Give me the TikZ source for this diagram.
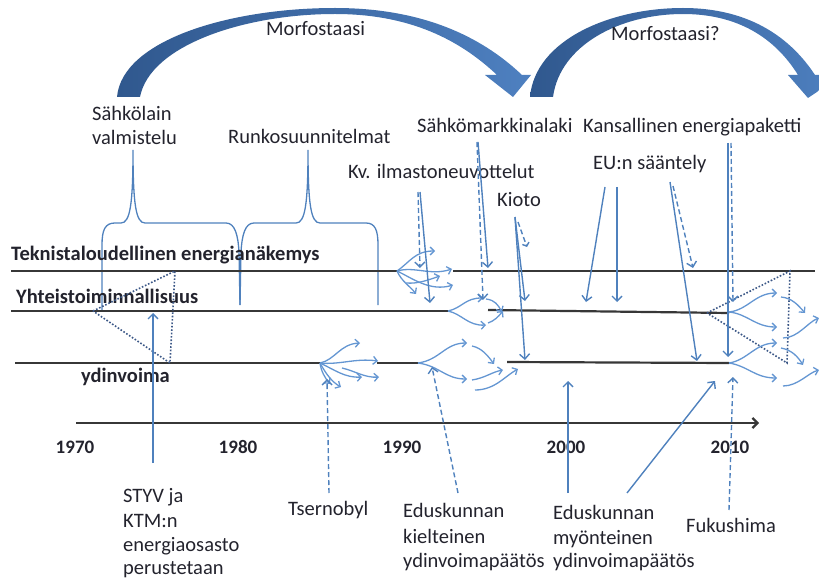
\documentclass[tikz,border=0pt]{standalone}
\usepackage{fontspec}
\setmainfont{Carlito}
\usetikzlibrary{arrows.meta}
\definecolor{lineblue}{RGB}{79,129,189}
\definecolor{branchblue}{RGB}{100,150,210}
\definecolor{arrowdark}{RGB}{48,88,142}
\definecolor{arrowlight}{RGB}{78,128,192}
\definecolor{ink}{RGB}{35,35,45}
\definecolor{rulegray}{RGB}{55,55,55}
\definecolor{dotblue}{RGB}{60,88,135}
\begin{document}
\begin{tikzpicture}[x=1pt,y=-1pt,
  lbl/.style={anchor=base west, inner sep=0pt, font=\fontsize{20.5}{24}\selectfont, text=ink},
  blbl/.style={anchor=base west, inner sep=0pt, font=\fontsize{20.5}{24}\selectfont\bfseries, text=ink},
  yearlbl/.style={anchor=base, inner sep=0pt, font=\fontsize{19}{24}\selectfont\bfseries, text=ink},
  rulel/.style={draw=rulegray, line width=2.2pt},
  conn/.style={draw=lineblue, line width=1.4pt, -{Straight Barb[length=5pt,width=10pt]}},
  dconn/.style={conn, dash pattern=on 5pt off 3pt},
  branch/.style={draw=branchblue, line width=1.3pt, -{Straight Barb[length=4pt,width=8pt]}},
  bracel/.style={draw=lineblue, line width=1.3pt},
  dotline/.style={draw=dotblue, line width=1.6pt, dash pattern=on 1.6pt off 1.8pt},
  bigarrow/.style={left color=arrowdark, right color=arrowlight, draw=none}
]
\useasboundingbox (0,0) rectangle (819,580);
\clip (0,0) rectangle (819,580);

% big curved arrows
\path[bigarrow] (117,97) .. controls (122,40) and (230,8) .. (335,8)
  .. controls (420,8) and (480,35) .. (522,75) -- (531,75) -- (513,97) -- (485,75) -- (497,75)
  .. controls (460,40) and (410,14) .. (335,14)
  .. controls (245,14) and (150,45) .. (140,97) -- cycle;
\path[bigarrow] (530,97) .. controls (535,40) and (610,8) .. (683,8)
  .. controls (752,8) and (792,40) .. (815,75) -- (842,75) -- (808,98) -- (788,75) -- (798,75)
  .. controls (775,38) and (738,14) .. (683,14)
  .. controls (620,14) and (560,45) .. (553,97) -- cycle;

% titles
\node[lbl] (morf1) at (266,36) {Morfostaasi};
\node[lbl] (morf2) at (611,41) {Morfostaasi?};

% top labels
\node[lbl] (sahko1) at (92,121) {Sähkölain};
\node[lbl] (sahko2) at (92,145) {valmistelu};
\node[lbl] (runko) at (228,144) {Runkosuunnitelmat};
\node[lbl] (kv) at (348,179) {Kv. ilmastoneuvottelut};
\node[lbl] (smk) at (417,133) {Sähkömarkkinalaki};
\node[lbl] (kioto) at (497,207) {Kioto};
\node[lbl] (kans) at (583,133) {Kansallinen energiapaketti};
\node[lbl] (eu) at (593,170) {EU:n sääntely};

% braces
\draw[bracel] (102,310) -- (102,245) .. controls (102,230) and (105,223) .. (115,223) -- (121,223)
  .. controls (130,223) and (133,205) .. (133,150)
  .. controls (133,205) and (136,223) .. (145,223) -- (226,223)
  .. controls (235,223) and (238,235) .. (239,252) -- (240,305);
\draw[bracel] (240,305) -- (241,252) .. controls (242,235) and (245,223) .. (254,223) -- (296,223)
  .. controls (305,223) and (308,205) .. (308,150)
  .. controls (308,205) and (311,223) .. (320,223) -- (366,223)
  .. controls (375,223) and (378,230) .. (378,245) -- (378,305);

% level labels
\node[blbl] (tekn) at (11,260) {Teknistaloudellinen energianäkemys};
\node[blbl] (yht) at (16,303) {Yhteistoiminnallisuus};
\node[blbl] (ydin) at (81,382) {ydinvoima};

% level lines
\coordinate (l1a) at (11,271);  \coordinate (l1b) at (397,271);
\coordinate (l1c) at (453,271); \coordinate (l1d) at (815,271);
\coordinate (l2a) at (11,311);  \coordinate (l2b) at (448,311);
\coordinate (l2c) at (488,310); \coordinate (l2d) at (729,313);
\coordinate (l3a) at (15,363);  \coordinate (l3b) at (320,363);
\coordinate (l3c) at (377,363); \coordinate (l3d) at (418,363);
\coordinate (l3e) at (507,362); \coordinate (l3f) at (729,363);
\draw[rulel] (l1a) -- (l1b);
\draw[rulel] (l1c) -- (l1d);
\draw[rulel] (l2a) -- (l2b);
\draw[rulel] (l2c) -- (l2d);
\draw[rulel] (l3a) -- (l3b);
\draw[rulel] (l3c) -- (l3d);
\draw[rulel] (l3e) -- (l3f);

% timeline
\coordinate (t0) at (76,423); \coordinate (t1) at (759,423);
\draw[rulel, -{Straight Barb[length=5pt,width=10pt]}] (t0) -- (t1);
\node[yearlbl] (y1970) at (75,453) {1970};
\node[yearlbl] (y1980) at (238,453) {1980};
\node[yearlbl] (y1990) at (402,453) {1990};
\node[yearlbl] (y2000) at (566,453) {2000};
\node[yearlbl] (y2010) at (730,453) {2010};

% dotted triangles
\coordinate (ta1) at (93,311); \coordinate (ta2) at (175,271); \coordinate (ta3) at (170,363);
\draw[dotline] (ta1) -- (ta2) -- (ta3) -- cycle;
\coordinate (tb1) at (707,313); \coordinate (tb2) at (790,271); \coordinate (tb3) at (787,363);
\draw[dotline] (tb1) -- (tb2) -- (tb3) -- cycle;

% branch clusters
\coordinate (cA) at (397,271);
\draw[branch] (cA) .. controls (410,262) and (415,251) .. (435,251);
\draw[branch] (cA) .. controls (415,266) and (430,276) .. (452,269);
\draw[branch] (cA) .. controls (412,278) and (430,292) .. (453,285);
\draw[branch] (cA) .. controls (402,282) and (410,286) .. (416,294);
\draw[branch] (406,283) .. controls (418,284) and (428,280) .. (440,276);
\coordinate (cB) at (448,311);
\draw[branch] (cB) .. controls (462,308) and (465,298) .. (483,298);
\draw[branch] (486,299) .. controls (495,300) and (498,305) .. (502,312);
\draw[branch] (cB) .. controls (462,314) and (468,326) .. (486,325);
\draw[branch] (488,323) .. controls (494,321) and (498,317) .. (503,311);
\coordinate (cC) at (320,363);
\draw[branch] (cC) .. controls (335,360) and (340,344) .. (360,343);
\draw[branch] (cC) .. controls (340,365) and (355,358) .. (378,361);
\draw[branch] (cC) .. controls (335,370) and (345,378) .. (362,377);
\draw[branch] (342,368) .. controls (355,371) and (365,378) .. (379,377);
\draw[branch] (cC) .. controls (326,374) and (332,382) .. (341,387);
\draw[branch] (cC) .. controls (321,371) and (325,378) .. (330,384);
\coordinate (cD) at (418,363);
\draw[branch] (cD) .. controls (440,360) and (445,343) .. (467,343);
\draw[branch] (472,346) .. controls (482,348) and (488,356) .. (494,364);
\draw[branch] (cD) .. controls (440,366) and (445,379) .. (467,379);
\draw[branch] (472,380) .. controls (485,378) and (492,372) .. (503,370);
\draw[branch] (475,390) .. controls (495,390) and (505,376) .. (518,369);
\coordinate (cE) at (729,312);
\draw[branch] (cE) .. controls (748,310) and (755,293) .. (777,293);
\draw[branch] (781,297) .. controls (792,298) and (798,305) .. (805,313);
\draw[branch] (cE) .. controls (748,314) and (755,327) .. (777,327);
\draw[branch] (783,338) .. controls (798,338) and (808,322) .. (819,318);
\coordinate (cF) at (729,363);
\draw[branch] (cF) .. controls (748,360) and (755,343) .. (777,343);
\draw[branch] (781,348) .. controls (792,350) and (798,357) .. (803,365);
\draw[branch] (cF) .. controls (748,366) and (755,378) .. (777,378);
\draw[branch] (783,386) .. controls (798,386) and (808,373) .. (819,370);

% arrows from top labels
\coordinate (kvs1) at (418,192); \coordinate (kve1) at (420,268);
\coordinate (kvs2) at (420,192); \coordinate (kve2) at (430,303);
\draw[dconn] (kvs1) -- (kve1);
\draw[conn] (kvs2) -- (kve2);
\coordinate (sms1) at (478,142); \coordinate (sme1) at (488,268);
\coordinate (sms2) at (477,142); \coordinate (sme2) at (483,300);
\draw[conn] (sms1) -- (sme1);
\draw[dconn] (sms2) -- (sme2);
\coordinate (kis) at (515,217); \coordinate (kie1) at (525,301);
\coordinate (kie2) at (525,360);
\coordinate (kis3) at (518,222); \coordinate (kie3) at (527,247);
\draw[conn] (kis) -- (kie1);
\draw[conn] (kis) -- (kie2);
\draw[dconn, -{Straight Barb[length=3pt,width=7pt]}] (kis3) -- (kie3);
\coordinate (eus1) at (605,187); \coordinate (eue1) at (586,302);
\coordinate (eus2) at (617,187); \coordinate (eue2) at (617,302);
\coordinate (eus3) at (670,182); \coordinate (eue3) at (697,361);
\coordinate (eus4) at (673,186); \coordinate (eue4) at (693,268);
\draw[conn] (eus1) -- (eue1);
\draw[conn] (eus2) -- (eue2);
\draw[conn] (eus3) -- (eue3);
\draw[dconn] (eus4) -- (eue4);
\coordinate (kas1) at (728,143); \coordinate (kae1) at (728,357);
\coordinate (kas2) at (731,143); \coordinate (kae2) at (733,302);
\draw[conn] (kas1) -- (kae1);
\draw[dconn] (kas2) -- (kae2);

% bottom labels
\node[lbl] (styv1) at (123,502) {STYV ja};
\node[lbl] (styv2) at (123,527) {KTM:n};
\node[lbl] (styv3) at (123,551) {energiaosasto};
\node[lbl] (styv4) at (123,574) {perustetaan};
\node[lbl] (tser) at (288,515) {Tsernobyl};
\node[lbl] (edk1) at (403,517) {Eduskunnan};
\node[lbl] (edk2) at (403,543) {kielteinen};
\node[lbl] (edk3) at (403,567) {ydinvoimapäätös};
\node[lbl] (edm1) at (553,519) {Eduskunnan};
\node[lbl] (edm2) at (553,544) {myönteinen};
\node[lbl] (edm3) at (553,567) {ydinvoimapäätös};
\node[lbl] (fuku) at (686,532) {Fukushima};

% arrows from bottom labels
\coordinate (sts) at (153,463); \coordinate (ste) at (153,313);
\draw[conn] (sts) -- (ste);
\coordinate (tss) at (329,493); \coordinate (tse) at (327,379);
\draw[dconn] (tss) -- (tse);
\coordinate (eks) at (458,493); \coordinate (eke) at (432,367);
\draw[dconn] (eks) -- (eke);
\coordinate (ems1) at (568,493); \coordinate (eme1) at (568,381);
\coordinate (ems2) at (627,493); \coordinate (eme2) at (715,381);
\draw[conn] (ems1) -- (eme1);
\draw[conn] (ems2) -- (eme2);
\coordinate (fus) at (729,510); \coordinate (fue) at (733,377);
\draw[dconn] (fus) -- (fue);
\end{tikzpicture}
\end{document}
